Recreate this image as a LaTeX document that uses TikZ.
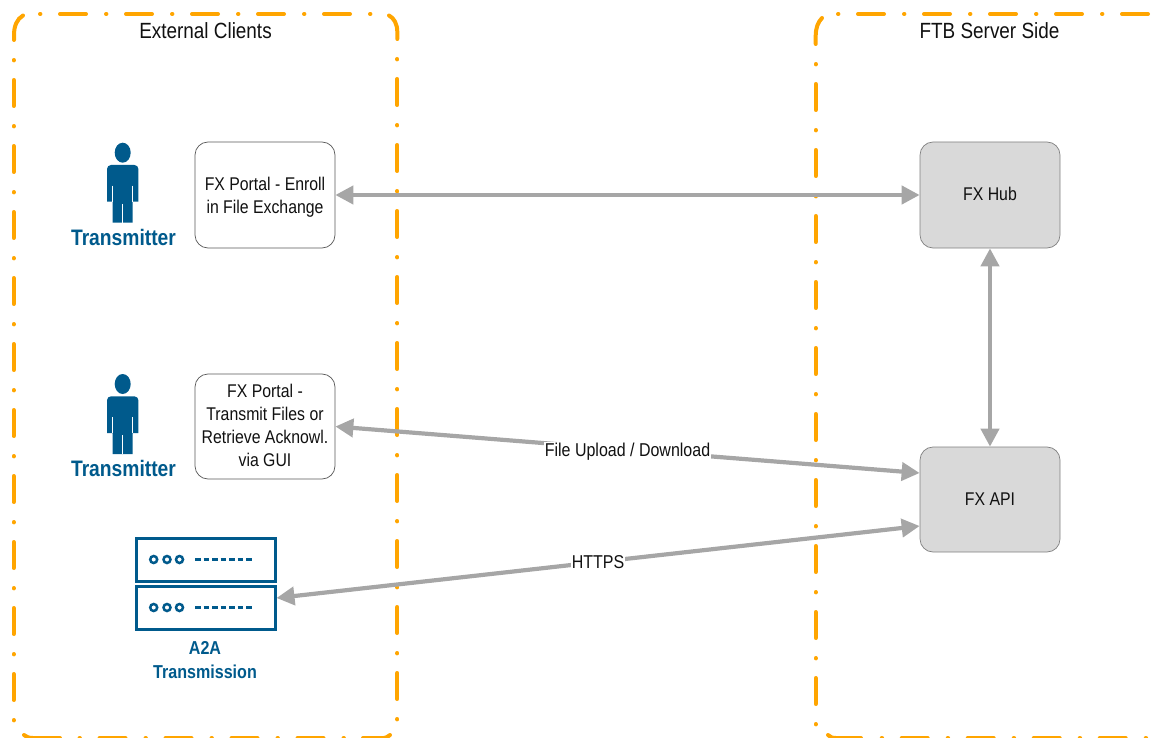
\documentclass[tikz,border=0pt]{standalone}
\usepackage{fontspec}
\usetikzlibrary{arrows.meta,calc}
\setmainfont{Liberation Sans}
\newfontfamily\narrowfont[FakeStretch=0.86]{Liberation Sans}
\definecolor{fxorange}{HTML}{FFA500}
\definecolor{fxblue}{HTML}{005A8C}
\definecolor{fxgray}{HTML}{A6A6A6}
\definecolor{fxfill}{HTML}{D9D9D9}
\definecolor{fxtext}{HTML}{111111}
\tikzset{
  x=1pt,y=-1pt,
  zonesolid/.style={draw=fxorange,line width=4pt,line cap=round},
  zonebox/.style={zonesolid,dash pattern=on 0.4pt off 19.6pt on 26pt off 20pt},
  fxbox/.style={draw=black!65,line width=0.7pt,rounded corners=13pt,minimum width=140pt,
    align=center,inner sep=0pt,text=fxtext,font=\narrowfont\fontsize{18.4}{23}\selectfont},
  whitebox/.style={fxbox,fill=white},
  greybox/.style={fxbox,fill=fxfill,draw=black!50},
  zonetitle/.style={text=fxtext,font=\narrowfont\fontsize{22}{24}\selectfont,inner sep=0pt},
  linklabel/.style={fill=white,text=fxtext,font=\narrowfont\fontsize{18.6}{20}\selectfont,inner sep=0.5pt},
  actorlabel/.style={text=fxblue,align=center,inner sep=0pt},
  link/.style={draw=fxgray,line width=4.2pt,{Triangle[length=18pt,width=18pt]}-{Triangle[length=18pt,width=18pt]}},
  srv/.style={draw=fxblue,line width=3pt,fill=white,minimum width=139pt,minimum height=43pt,inner sep=0pt},
  person/.pic={
    \fill[fxblue] (0,2.7) ellipse (8 and 10);
    \fill[fxblue] (-15.7,51.7) [rounded corners=4pt] -- (-15.7,15) -- (15.7,15) [sharp corners] -- (15.7,51.7) -- (10,51.7) -- (10,72.7) -- (-10,72.7) -- (-10,51.7) -- cycle;
    \draw[white,line width=0.7pt] (-10,35.7) -- (-10,52) (10,35.7) -- (10,52) (0,54) -- (0,73);
  },
  srvicon/.pic={
    \foreach \cx in {-51.8,-38.5,-26}{\draw[fxblue,line width=2.5pt] (\cx,0) circle (3.5);}
    \draw[fxblue,line width=2.5pt,dash pattern=on 5.6pt off 2.9pt] (-10.5,0) -- (48,0);
  }
}
\begin{document}
\begin{tikzpicture}
\useasboundingbox (0,0) rectangle (1156,738);
% left zone
\draw[zonebox] (40,14) -- (371,14);
\draw[zonebox] (397.3,59) -- (397.3,720);
\draw[zonebox] (79.5,738) -- (344,738);
\draw[zonebox] (13.7,60) -- (13.7,721);
\draw[zonesolid] (14,40) -- (14,35) .. controls (14,26) and (17,19) .. (23,15.5);
\draw[zonesolid] (389,15.5) .. controls (394,18) and (397.3,24) .. (397.3,32) -- (397.3,39);
\draw[zonesolid] (24,735) .. controls (26,736.5) and (28,738) .. (33,738) -- (60,738);
\draw[zonesolid] (363,738) -- (384,738) .. controls (386,738) and (388,736.5) .. (390,735);
% right zone
\draw[zonebox] (838,14) -- (1149,14);
\draw[zonebox] (815.7,64) -- (815.7,725);
\draw[zonebox] (881.7,738) -- (1147,738);
\draw[zonesolid] (815.7,44) -- (815.7,36) .. controls (815.7,28) and (818,22) .. (822,18);
\draw[zonesolid] (828,735) .. controls (830,737) and (832,738) .. (836,738) -- (861,738);
\node[zonetitle] (clients) at (205.5,31) {External Clients};
\node[zonetitle] (server) at (989.5,31) {FTB Server Side};
% boxes
\node[whitebox,minimum height=106pt] (enroll) at (265,195) {\rule{0pt}{17pt}FX Portal - Enroll\\in File Exchange};
\node[whitebox,minimum height=105pt] (portal) at (265,426.5) {FX Portal -\\Transmit Files or\\Retrieve Acknowl.\\via GUI\rule[-2pt]{0pt}{2pt}};
\node[greybox,minimum height=106pt] (hub) at (990,195) {FX Hub\rule[-2pt]{0pt}{2pt}};
\node[greybox,minimum height=105pt] (api) at (990,499.5) {FX API};
% actors
\pic at (122.7,150) {person};
\pic at (122.7,381.3) {person};
\node[actorlabel,font=\narrowfont\bfseries\fontsize{22.4}{24}\selectfont] (t1) at (123.5,237) {Transmitter};
\node[actorlabel,font=\narrowfont\bfseries\fontsize{22.4}{24}\selectfont] (t2) at (123.5,468) {Transmitter};
\node[srv] (s1) at (205.5,559.5) {};
\node[srv] (s2) at (205.5,607.5) {};
\pic at (205.5,559.5) {srvicon};
\pic at (205.5,607.5) {srvicon};
\node[actorlabel,font=\narrowfont\bfseries\fontsize{18.7}{24}\selectfont] (a2a) at (205,660) {A2A\\Transmission};
% links
\draw[link] (enroll.east) -- (hub.west);
\draw[link] (hub.south) -- (api.north);
\draw[link] (portal.east) -- node[linklabel,pos=0.5,yshift=-1.5pt] (l1) {File Upload / Download} ([yshift=26.5pt]api.west);
\draw[link] ([yshift=9.5pt]s2.east) -- node[linklabel,pos=0.5] (l2) {HTTPS} ([yshift=-26.5pt]api.west);
\end{tikzpicture}
\end{document}
